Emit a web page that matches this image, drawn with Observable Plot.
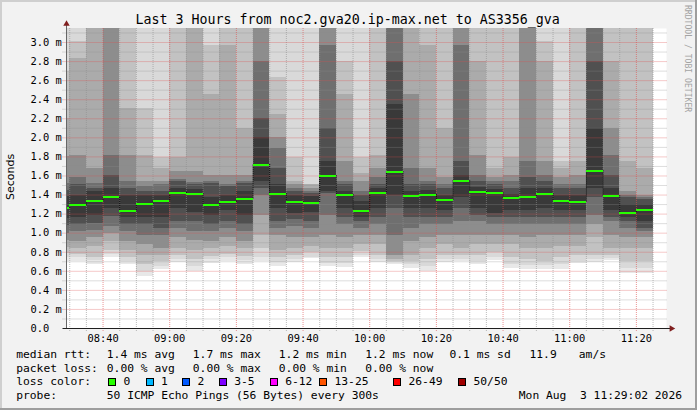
<!DOCTYPE html>
<html><head><meta charset="utf-8">
<script src="https://cdn.jsdelivr.net/npm/d3@7"></script>
<script src="https://cdn.jsdelivr.net/npm/@observablehq/plot@0.6"></script>
<style>
html,body{margin:0;padding:0;background:#f2f2f2;}
#chart{position:relative;width:697px;height:410px;background:#f2f2f2;overflow:hidden;font-family:"DejaVu Sans Mono",monospace;color:#000;}
#chart svg{position:absolute;left:0;top:0;}
.t{position:absolute;white-space:pre;}
.box{position:absolute;width:8px;height:8px;box-sizing:border-box;border:1px solid #000;}
</style></head><body><div id="chart"></div>
<script>
// ---------- data ----------
const titleText = "Last 3 Hours from noc2.gva20.ip-max.net to AS3356_gva";
const viewStart = "08:29:02";
const viewEnd = "11:29:02";
const stepMinutes = 5;
const columnStart = ["08:25","08:30","08:35","08:40","08:45","08:50","08:55","09:00","09:05","09:10","09:15","09:20","09:25","09:30","09:35","09:40","09:45","09:50","09:55","10:00","10:05","10:10","10:15","10:20","10:25","10:30","10:35","10:40","10:45","10:50","10:55","11:00","11:05","11:10","11:15","11:20"];
// median rtt per step (ms)
const medianRtt = [1.262,1.293,1.339,1.377,1.234,1.307,1.339,1.426,1.412,1.297,1.328,1.360,1.720,1.412,1.328,1.321,1.601,1.404,1.234,1.423,1.643,1.391,1.404,1.349,1.549,1.433,1.423,1.370,1.381,1.412,1.339,1.328,1.654,1.391,1.213,1.244];
// sorted ping values (ms) below the median, outer smoke shell -> inner shell
const smokeLow = [
[0.70,0.74,0.79,0.85,0.92,1.00,1.08,1.15],
[0.70,0.74,0.78,0.84,0.91,1.02,1.09,1.16],
[0.67,0.71,0.75,0.86,0.95,1.03,1.10,1.19],
[0.74,0.78,0.82,0.91,1.00,1.07,1.17,1.26],
[0.67,0.70,0.74,0.82,0.91,1.02,1.09,1.16],
[0.545,0.60,0.67,0.77,0.88,0.98,1.09,1.16],
[0.615,0.65,0.70,0.77,0.84,0.98,1.05,1.16],
[0.69,0.72,0.77,0.84,0.95,1.05,1.12,1.26],
[0.60,0.65,0.72,0.82,0.92,1.02,1.12,1.22],
[0.685,0.72,0.76,0.84,0.91,1.02,1.09,1.19],
[0.70,0.74,0.78,0.86,0.95,1.05,1.12,1.24],
[0.67,0.71,0.76,0.84,0.91,1.02,1.09,1.19],
[0.70,0.74,0.84,0.98,1.19,1.40,1.47,1.54],
[0.65,0.69,0.74,0.82,0.98,1.05,1.12,1.26],
[0.69,0.72,0.77,0.84,0.95,1.07,1.14,1.21],
[0.73,0.75,0.80,0.86,0.95,1.05,1.12,1.22],
[0.65,0.68,0.74,0.84,0.98,1.19,1.42,1.44],
[0.64,0.68,0.74,0.84,0.95,1.09,1.16,1.26],
[0.74,0.77,0.81,0.88,0.98,1.05,1.12,1.16],
[0.69,0.72,0.77,0.88,0.98,1.09,1.16,1.26],
[0.67,0.69,0.70,0.72,0.77,0.98,1.26,1.40],
[0.63,0.67,0.70,0.77,0.91,1.05,1.16,1.26],
[0.60,0.65,0.72,0.84,0.95,1.09,1.16,1.26],
[0.69,0.72,0.77,0.88,0.98,1.09,1.16,1.24],
[0.70,0.72,0.77,0.84,0.98,1.12,1.26,1.37],
[0.67,0.70,0.77,0.88,0.98,1.12,1.19,1.26],
[0.71,0.74,0.80,0.88,0.98,1.09,1.16,1.21],
[0.63,0.67,0.74,0.88,0.98,1.09,1.16,1.24],
[0.62,0.66,0.72,0.84,0.95,1.09,1.16,1.24],
[0.615,0.66,0.70,0.84,0.98,1.09,1.16,1.26],
[0.62,0.67,0.74,0.86,0.98,1.09,1.16,1.24],
[0.68,0.70,0.77,0.86,0.98,1.09,1.16,1.24],
[0.69,0.72,0.77,0.95,1.09,1.19,1.37,1.47],
[0.71,0.73,0.77,0.84,0.98,1.12,1.16,1.24],
[0.58,0.63,0.70,0.84,0.95,1.05,1.12,1.16],
[0.58,0.63,0.70,0.84,0.95,1.02,1.05,1.12]];
// sorted ping values (ms) above the median, outer smoke shell -> inner shell (3.3 = off the top)
const smokeHigh = [
[3.3,3.3,2.70,2.20,1.80,1.52,1.45,1.38],
[3.3,3.3,3.01,2.83,1.82,1.58,1.51,1.40],
[3.3,3.3,3.3,3.3,1.68,1.52,1.47,1.44],
[3.3,3.3,3.3,3.3,3.3,1.82,1.61,1.47],
[3.3,3.3,3.3,2.31,1.82,1.54,1.47,1.40],
[3.3,3.3,2.31,1.82,1.54,1.49,1.44,1.40],
[3.3,3.3,1.79,1.68,1.54,1.51,1.44,1.40],
[3.3,3.3,3.3,1.79,1.65,1.56,1.54,1.47],
[3.3,3.3,3.3,3.3,1.65,1.53,1.51,1.46],
[3.3,3.3,2.97,2.45,1.61,1.54,1.52,1.37],
[3.3,3.3,3.3,2.97,1.61,1.51,1.49,1.40],
[3.3,3.3,3.3,2.10,1.61,1.54,1.52,1.44],
[3.3,3.3,3.3,3.3,3.3,2.80,2.20,2.00],
[3.3,3.3,2.63,2.24,2.00,1.89,1.68,1.51],
[3.3,3.3,1.79,1.54,1.51,1.47,1.44,1.40],
[3.3,3.3,1.51,1.51,1.47,1.44,1.42,1.38],
[3.3,3.3,3.3,3.3,3.3,2.97,2.10,1.75],
[3.3,3.3,2.80,2.45,1.75,1.54,1.51,1.44],
[3.3,3.3,1.79,1.63,1.54,1.44,1.40,1.33],
[3.3,3.3,3.3,1.82,1.68,1.58,1.51,1.47],
[3.3,3.3,3.3,3.3,3.3,3.3,2.80,2.35],
[3.3,3.3,3.3,3.3,2.45,1.68,1.51,1.44],
[3.3,3.3,3.3,2.97,1.68,1.54,1.51,1.45],
[3.3,3.3,3.3,2.10,1.58,1.51,1.47,1.40],
[3.3,3.3,3.3,3.3,3.3,2.97,1.75,1.61],
[3.3,3.3,3.3,2.80,1.82,1.61,1.54,1.48],
[3.3,3.3,3.3,1.68,1.58,1.54,1.51,1.46],
[3.3,3.3,3.3,1.79,1.61,1.54,1.47,1.41],
[3.3,3.3,3.3,3.3,3.3,1.75,1.58,1.47],
[3.3,3.3,3.01,2.80,1.75,1.61,1.54,1.47],
[3.3,3.3,1.75,1.68,1.58,1.51,1.47,1.40],
[3.3,3.3,3.3,1.75,1.61,1.51,1.47,1.40],
[3.3,3.3,3.3,3.3,3.3,3.3,2.80,2.10],
[3.3,3.3,3.3,2.80,2.10,1.82,1.61,1.47],
[3.3,3.3,3.3,1.75,1.44,1.40,1.37,1.30],
[3.3,3.3,3.3,1.68,1.40,1.37,1.35,1.30]];
const shellGray = ["#e8e8e8","#d9d9d9","#c2c2c2","#ababab","#8d8d8d","#6f6f6f","#505050","#393939"];
const yTop = 3.147;
const yMajorTicks = [0.0,0.2,0.4,0.6,0.8,1.0,1.2,1.4,1.6,1.8,2.0,2.2,2.4,2.6,2.8,3.0];
const yMinorTicks = [0.1,0.3,0.5,0.7,0.9,1.1,1.3,1.5,1.7,1.9,2.1,2.3,2.5,2.7,2.9,3.1];
const xMajorTicks = ["08:40","09:00","09:20","09:40","10:00","10:20","10:40","11:00","11:20"];
const xMinorTicks = ["08:30","08:35","08:45","08:50","08:55","09:05","09:10","09:15","09:25","09:30","09:35","09:45","09:50","09:55","10:05","10:10","10:15","10:25","10:30","10:35","10:45","10:50","10:55","11:05","11:10","11:15","11:25"];
const legendLabels = ["median rtt:","packet loss:","loss color:","probe:"];
const rttStats = ["1.4 ms avg","1.7 ms max","1.2 ms min","1.2 ms now","0.1 ms sd","11.9","am/s"];
const lossStats = ["0.00 % avg","0.00 % max","0.00 % min","0.00 % now"];
const lossLabels = ["0","1","2","3-5","6-12","13-25","26-49","50/50"];
const lossColors = ["#26ff00","#00b8ff","#0059ff","#7e00ff","#ff00ff","#ff5500","#ff0000","#a00000"];
const probeText = "50 ICMP Echo Pings (56 Bytes) every 300s";
const dateText = "Mon Aug  3 11:29:02 2026";
const yLabel = "Seconds";
const watermark = "RRDTOOL / TOBI OETIKER";

// ---------- build ----------
const T = s => { const [h,m,sec=0] = s.split(":").map(Number); return new Date(Date.UTC(2026,7,3,h,m,sec)); };
const cols = columnStart.map((s,i) => ({x1: T(s), x2: new Date(+T(s) + stepMinutes*60000), med: medianRtt[i], prev: i ? medianRtt[i-1] : medianRtt[i]}));
const shells = [];
for (let k = 0; k < shellGray.length; k++) cols.forEach((c,i) => shells.push({x1: c.x1, x2: c.x2, y1: smokeLow[i][k], y2: smokeHigh[i][k], k}));

const gridMinor = {stroke: "#8f8f8f", strokeOpacity: 0.6, strokeDasharray: "1,1", ariaLabel: "snap"};
const gridMajor = {stroke: "#de4f4f", strokeOpacity: 0.6, strokeDasharray: "1,1", ariaLabel: "snap"};
const plot = Plot.plot({
  width: 697, height: 346,
  marginLeft: 66, marginRight: 31, marginTop: 28, marginBottom: 18,
  style: {background: "transparent", fontFamily: "DejaVu Sans Mono", fontSize: "10.4px", color: "#000", overflow: "visible"},
  x: {type: "utc", domain: [T(viewStart), T(viewEnd)]},
  y: {domain: [0, yTop]},
  color: {type: "identity"},
  marks: [
    Plot.frame({fill: "#ffffff"}),
    Plot.rect(shells, {x1: "x1", x2: "x2", y1: "y1", y2: "y2", fill: d => shellGray[d.k], clip: true, shapeRendering: "crispEdges"}),
    Plot.ruleY(yMinorTicks, {...gridMinor, insetLeft: -3.5, insetRight: -1}),
    Plot.ruleX(xMinorTicks.map(T), {...gridMinor, insetBottom: -3}),
    Plot.ruleY(yMajorTicks.slice(1), {...gridMajor, insetLeft: -3.5, insetRight: -1}),
    Plot.ruleX(xMajorTicks.map(T), {...gridMajor, insetBottom: -3}),
    Plot.ruleX(cols.slice(1), {x: "x1", y1: "prev", y2: "med", stroke: "#000", strokeDasharray: "1,1", clip: true, ariaLabel: "snap"}),
    Plot.ruleY(cols, {x1: "x1", x2: "x2", y: "med", stroke: "#26ff00", strokeWidth: 2, clip: true, shapeRendering: "crispEdges"}),
    Plot.ruleX([viewStart], {x: T, stroke: "#666", insetTop: -6, ariaLabel: "snap"}),
    Plot.ruleY([0], {stroke: "#1f1f1f", insetLeft: -3.5, insetRight: -4, ariaLabel: "snap"}),
    Plot.dot([viewStart], {x: T, frameAnchor: "top", symbol: "triangle", r: 2.4, fill: "#801f1f", stroke: null, dy: -4.5}),
    Plot.dot([0], {y: d => d, frameAnchor: "right", symbol: "triangle", rotate: 90, r: 2.4, fill: "#801f1f", stroke: null, dx: 5}),
    Plot.axisY(yMajorTicks, {tickSize: 0, tickPadding: 36, textAnchor: "start", label: null, tickFormat: d => d === 0 ? "0.0" : d.toFixed(1) + " m"}),
    Plot.axisX(xMajorTicks.map(T), {tickSize: 0, tickPadding: 6.5, label: null, tickFormat: d3.utcFormat("%H:%M")})
  ]
});
// snap thin rules to whole pixels so the dotted grid renders crisply
plot.querySelectorAll('g[aria-label="snap"] line').forEach(l => {
  for (const a of ["x1","x2","y1","y2"]) { const v = l.getAttribute(a); if (v != null) l.setAttribute(a, Math.round(+v)); }
});
const chart = document.getElementById("chart");
chart.appendChild(plot);

// ---------- text around the plot ----------
function txt(str, x, baseline, size, extra = {}) {
  const d = document.createElement("div");
  d.className = "t";
  d.textContent = str;
  d.style.fontSize = size + "px";
  d.style.lineHeight = (size * 1.164) + "px";
  d.style.left = x + "px";
  d.style.top = (baseline - 0.928 * size) + "px";
  Object.assign(d.style, extra);
  chart.appendChild(d);
  return d;
}
// title
const tt = txt(titleText, 0, 24, 13.3);
tt.style.left = (347.5 - tt.offsetWidth / 2) + "px";
// y label
const yl = txt(yLabel, 0, 0, 11, {fontFamily: "'DejaVu Sans', sans-serif", transformOrigin: "0 0"});
yl.style.top = "0px";
yl.style.transform = `translate(${15.3 - 0.928 * 11}px, ${177 + yl.offsetWidth / 2}px) rotate(-90deg)`;
// watermark
const wm = txt(watermark, 0, 0, 8.1, {color: "#a3a3a3", transformOrigin: "0 0"});
wm.style.top = "0px";
wm.style.transform = `translate(${684.8 + 0.928 * 8.1}px, 5px) rotate(90deg)`;

// legend
const L = 11.3, col0 = 16.2, colPos = [106.8, 192.8, 278.8, 365.2, 449.5, 529.5, 578.8];
const base = [358.3, 372.1, 385.9, 399.7];
txt(legendLabels[0], col0, base[0], L);
rttStats.forEach((s,i) => txt(s, colPos[i], base[0], L));
txt(legendLabels[1], col0, base[1], L);
lossStats.forEach((s,i) => txt(s, colPos[i], base[1], L));
txt(legendLabels[2], col0, base[2], L);
const boxX = [108.3, 145.7, 182.3, 219, 270, 319.3, 393.3, 458.3];
lossLabels.forEach((s,i) => {
  const b = document.createElement("div");
  b.className = "box";
  b.style.left = boxX[i] + "px";
  b.style.top = "378.3px";
  b.style.background = lossColors[i];
  chart.appendChild(b);
  txt(s, boxX[i] + 15.2, base[2], L);
});
txt(legendLabels[3], col0, base[3], L);
txt(probeText, colPos[0], base[3], L);
const dt = txt(dateText, 0, base[3], L);
dt.style.left = (681.8 - dt.offsetWidth) + "px";

// frame shading
[["0px","0px","697px","2px","#cfcfcf"],["0px","0px","2px","410px","#cfcfcf"],["0px","408px","697px","2px","#9e9e9e"],["695px","0px","2px","410px","#9e9e9e"]].forEach(([l,t,w,h,c]) => {
  const s = document.createElement("div");
  Object.assign(s.style, {position: "absolute", left: l, top: t, width: w, height: h, background: c});
  chart.appendChild(s);
});
</script></body></html>
